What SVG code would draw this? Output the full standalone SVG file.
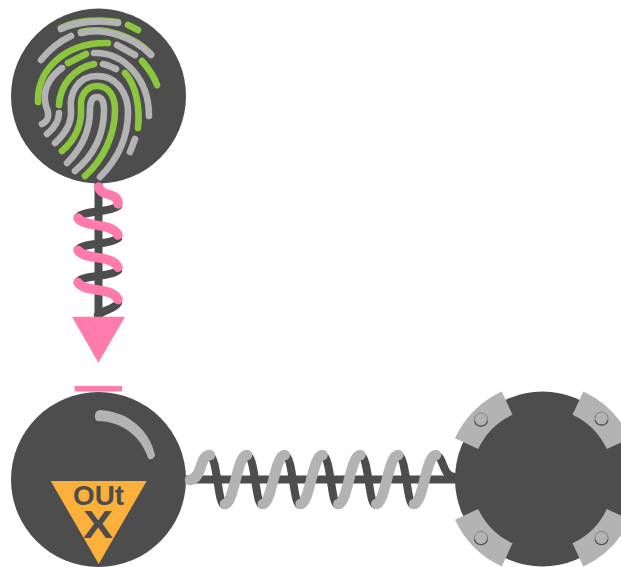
<svg xmlns="http://www.w3.org/2000/svg" xmlns:xlink="http://www.w3.org/1999/xlink" width="621" height="567" viewBox="0 0 621 567">
<style>
.disc{fill:#4d4d4d}
.fp{fill:none;stroke-width:6.6;stroke-linecap:round;stroke-linejoin:round}
.g{stroke:#b3b3b3}
.v{stroke:#8cc63f}
.coil{fill:none;stroke-linecap:round}
.rod{stroke:#4d4d4d;stroke-width:8;fill:none}
.back{stroke:#4d4d4d;stroke-width:8}
.pink{stroke:#ff7bac;stroke-width:9.5}
.lgray{stroke:#b3b3b3;stroke-width:10.5}
.lbl{font-family:"Liberation Sans",Arial,sans-serif;font-weight:700;fill:#4d4d4d;text-anchor:middle}
</style>
<defs>
<path id="sector" d="M-87.5,-40.8 A96.5,96.5 0 0 1 -40.8,-87.5 L-30,-64.3 A71,71 0 0 0 -64.3,-30 Z" fill="#b3b3b3"/>
<g id="screw">
<circle r="6.6" fill="#b3b3b3" stroke="#808080" stroke-width="1"/>
<path d="M-6.4,1.6 A6.6,6.6 0 0 0 6.4,1.6" fill="none" stroke="#4d4d4d" stroke-width="1.2"/>
</g>
<path id="pinkSeg" d="M78,218 C84,228 112,222 118,235"/>
<path id="backSeg" d="M118,206 C110,213 84,210 78,217"/>
<path id="graySeg" d="M225,504 C234,504 237,455 247,455"/>
<path id="darkSeg" d="M210,456 C217,456 218,505 224,505"/>
</defs>
<g id="node-fingerprint">
<circle class="disc" cx="98.5" cy="96" r="87.5"/>
<g class="fp v" transform="translate(0,-1)">
<path d="M61,29 C78,21 100,20 118,23"/>
<path d="M81,33 C105,27 135,38 151,55"/>
</g>
<g class="fp g">
<path d="M61,29 C78,21 100,20 118,23"/>
<path d="M81,33 C105,27 135,38 151,55"/>
<path d="M41,60 C49,50 60,41 71,36"/>
<path d="M117,45 L135,55"/>
<path d="M94,53 C125,52 149,80 149,116"/>
<path d="M42,124 C50,120 49,113 46,106 C42,92 48,78 62,68"/>
<path d="M103,64 C108,65 112,67 116,69"/>
<path d="M47,134 C53,129 59,122 59,113"/>
<path d="M55,143 C66,133 72,123 71,110 C69,93 78,76 97,76 C118,76 128,95 128,112 C128,138 117,160 100,177"/>
<path d="M67,163 C82,148 90,130 90,110 C90,102 92,97 97,97 C102,97 104,102 104,110 C104,135 94,155 75,171"/>
<path d="M130,152 L135,139"/>
</g>
<g class="fp v">
<path d="M128,25 L138,30"/>
<path d="M38,102 C37,70 65,42 108,43"/>
<path d="M68,63 L86,54"/>
<path d="M142,61 C149,69 154,76 157,85"/>
<path d="M59,105 C60,85 74,68 94,64"/>
<path d="M125,73 C137,86 140,110 138,128"/>
<path d="M62,151 C77,138 82,122 81,107 C80,95 87,86 97,86 C108,86 115,95 115,110 C115,135 103,160 85,176"/>
</g>
</g>
<g id="node-out">
<circle class="disc" cx="98.5" cy="479.5" r="87.5"/>
<path d="M100,410 C127,411 150,430 155,455 C155,458 150,461 148,458 C142,438 123,421 97,421 C93,418 95,410 100,410 Z" fill="#b3b3b3"/>
<path d="M50.7,481 L146.7,481 L98.7,564 Z" fill="#fbb03b"/>
<text class="lbl" x="98.5" y="505" font-size="28" textLength="51" lengthAdjust="spacingAndGlyphs">OUt</text>
<text class="lbl" x="98" y="538" font-size="38" textLength="30" lengthAdjust="spacingAndGlyphs">X</text>
</g>
<g id="node-gear">
<circle class="disc" cx="542.5" cy="479" r="87.5"/>
<use xlink:href="#sector" href="#sector" transform="translate(542.5,479)"/>
<use xlink:href="#sector" href="#sector" transform="translate(542.5,479) rotate(90)"/>
<use xlink:href="#sector" href="#sector" transform="translate(542.5,479) rotate(180)"/>
<use xlink:href="#sector" href="#sector" transform="translate(542.5,479) rotate(270)"/>
<use xlink:href="#screw" href="#screw" x="481" y="419.5"/>
<use xlink:href="#screw" href="#screw" x="601.5" y="418.5"/>
<use xlink:href="#screw" href="#screw" x="481" y="538"/>
<use xlink:href="#screw" href="#screw" x="601.5" y="538"/>
</g>
<g id="connectors">
<g id="connector-vertical">
<path class="rod" d="M98.5,183 V318"/>
<g class="coil back">
<use href="#backSeg"/>
<use href="#backSeg" y="32.3"/>
<use href="#backSeg" y="64.6"/>
<path d="M118,303 C115,309 105,309 98,315"/>
</g>
<g class="coil pink">
<path d="M98.7,187 C102,198 118,191 118,204"/>
<use href="#pinkSeg"/>
<use href="#pinkSeg" y="32.3"/>
<use href="#pinkSeg" y="64.6"/>
</g>
<path d="M72,316.7 H125 L98.4,362.7 Z" fill="#ff7bac"/>
<rect x="74.5" y="386" width="47.5" height="5.5" fill="#ff7bac"/>
</g>
<g id="connector-horizontal">
<path class="rod" d="M186,479.5 H456"/>
<g class="coil back">
<use href="#darkSeg"/>
<use href="#darkSeg" x="37.8"/>
<use href="#darkSeg" x="75.6"/>
<use href="#darkSeg" x="113.4"/>
<use href="#darkSeg" x="151.2"/>
<use href="#darkSeg" x="189"/>
<path d="M435,455 C445,456 441,476 455,477"/>
</g>
<g class="coil lgray">
<path d="M190,480 C203,478 199,455 210,455"/>
<use href="#graySeg"/>
<use href="#graySeg" x="37.8"/>
<use href="#graySeg" x="75.6"/>
<use href="#graySeg" x="113.4"/>
<use href="#graySeg" x="151.2"/>
<use href="#graySeg" x="189"/>
</g>
</g>
</g>
</svg>
